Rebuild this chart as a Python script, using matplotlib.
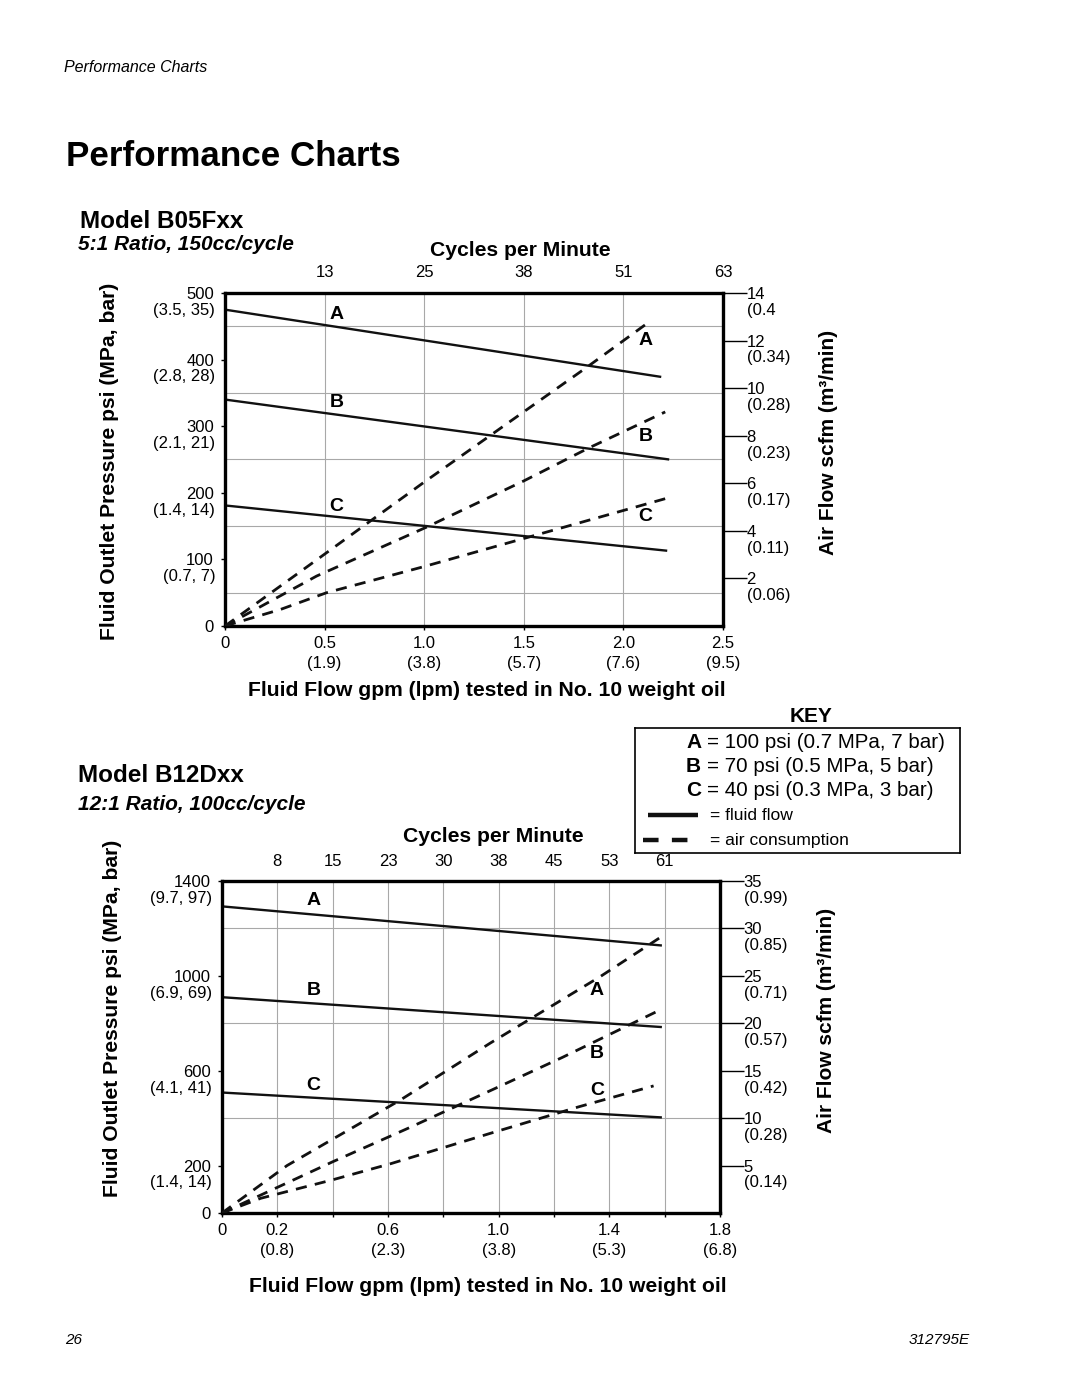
import numpy as np
import matplotlib
matplotlib.use('Agg')
from matplotlib import pyplot as plt

plt.rcParams['font.family'] = ['Liberation Sans', 'DejaVu Sans']

# ---- data: Model B05Fxx (5:1) ----
b05_flow_ticks = [0, 0.5, 1.0, 1.5, 2.0, 2.5]
b05_lpm_labels = ['', '(1.9)', '(3.8)', '(5.7)', '(7.6)', '(9.5)']
b05_cycles = ['13', '25', '38', '51', '63']
b05_cycle_pos = [0.5, 1.0, 1.5, 2.0, 2.5]
b05_psi_ticks = [0, 100, 200, 300, 400, 500]
b05_mpa_labels = ['', '(0.7, 7)', '(1.4, 14)', '(2.1, 21)', '(2.8, 28)', '(3.5, 35)']
b05_scfm_ticks = [2, 4, 6, 8, 10, 12, 14]
b05_m3_labels = ['(0.06)', '(0.11)', '(0.17)', '(0.23)', '(0.28)', '(0.34)', '(0.4']

b05_fluid = {
    'A': ([0, 2.19], [475, 374]),
    'B': ([0, 2.23], [340, 250]),
    'C': ([0, 2.22], [181, 113]),
}
b05_air = {
    'A': ([0, 0.48, 1.0, 1.33, 1.82, 2.14], [0, 2.9, 6.05, 8.0, 10.9, 12.85]),
    'B': ([0, 0.46, 1.01, 1.5, 1.83, 2.21], [0, 2.1, 4.15, 6.1, 7.5, 9.0]),
    'C': ([0, 0.28, 0.51, 1.0, 1.53, 1.7, 2.23], [0, 0.7, 1.4, 2.5, 3.75, 4.15, 5.4]),
}
b05_label_left = {'A': (0.56, 467), 'B': (0.56, 336), 'C': (0.56, 179)}
b05_label_right = {'A': (2.11, 429), 'B': (2.11, 284), 'C': (2.11, 165)}

# ---- data: Model B12Dxx (12:1) ----
b12_flow_ticks = [0, 0.2, 0.4, 0.6, 0.8, 1.0, 1.2, 1.4, 1.6, 1.8]
b12_flow_labels = ['0', '0.2\n(0.8)', '', '0.6\n(2.3)', '', '1.0\n(3.8)', '',
                   '1.4\n(5.3)', '', '1.8\n(6.8)']
b12_cycles = ['8', '15', '23', '30', '38', '45', '53', '61']
b12_cycle_pos = [0.2, 0.4, 0.6, 0.8, 1.0, 1.2, 1.4, 1.6]
b12_psi_ticks = [0, 200, 600, 1000, 1400]
b12_mpa_labels = ['', '(1.4, 14)', '(4.1, 41)', '(6.9, 69)', '(9.7, 97)']
b12_scfm_ticks = [5, 10, 15, 20, 25, 30, 35]
b12_m3_labels = ['(0.14)', '(0.28)', '(0.42)', '(0.57)', '(0.71)', '(0.85)', '(0.99)']

b12_fluid = {
    'A': ([0, 1.59], [1293, 1128]),
    'B': ([0, 1.59], [910, 784]),
    'C': ([0, 1.59], [508, 403]),
}
b12_air = {
    'A': ([0, 0.235, 0.644, 0.969, 1.366, 1.592], [0, 5.0, 11.9, 17.9, 24.9, 29.2]),
    'B': ([0, 0.40, 0.67, 0.97, 1.23, 1.59], [0, 5.4, 8.9, 12.9, 16.4, 21.5]),
    'C': ([0, 0.14, 0.40, 0.61, 0.97, 1.29, 1.56], [0, 1.55, 3.5, 5.2, 8.4, 11.2, 13.4]),
}
b12_label_left = {'A': (0.33, 1317), 'B': (0.33, 939), 'C': (0.33, 539)}
b12_label_right = {'A': (1.355, 939), 'B': (1.355, 673), 'C': (1.355, 518)}

key_letters = ['A', 'B', 'C']
key_desc = ['= 100 psi (0.7 MPa, 7 bar)', '= 70 psi (0.5 MPa, 5 bar)',
            '= 40 psi (0.3 MPa, 3 bar)']

W, H = 1080, 1397
fig = plt.figure(figsize=(W / 100, H / 100), dpi=100)


def px_axes(left, top, right, bottom):
    return fig.add_axes([left / W, 1 - bottom / H, (right - left) / W, (bottom - top) / H])


def ftext(x, y, s, **kw):
    fig.text(x / W, 1 - y / H, s, **kw)


TICK_FS = 12
DASH = (0, (4, 3))


def make_chart(box, xmax, ymax, scfm_max, flow_ticks, flow_labels, cyc_pos, cycles,
               psi_ticks, mpa_labels, grid_psi, scfm_ticks, m3_labels,
               fluid, air, lab_left, lab_right):
    ax = px_axes(*box)
    ax.set_xlim(0, xmax)
    ax.set_ylim(0, ymax)
    for s in ax.spines.values():
        s.set_linewidth(2.4)
    ax.set_xticks(flow_ticks)
    ax.set_xticklabels(flow_labels, fontsize=TICK_FS, linespacing=1.4)
    ax.tick_params(axis='x', length=3, width=1, pad=4)
    ax.set_yticks(psi_ticks)
    ax.set_yticklabels([str(v) for v in psi_ticks], fontsize=TICK_FS)
    ax.tick_params(axis='y', length=3, width=1, pad=5)
    ax.set_yticks(grid_psi, minor=True)
    ax.tick_params(which='minor', length=0)
    ax.grid(axis='x', which='major', color='#a8a8a8', lw=0.8)
    ax.grid(axis='y', which='minor', color='#a8a8a8', lw=0.8)
    ax.set_axisbelow(True)
    for v, lab in zip(psi_ticks, mpa_labels):
        if lab:
            ax.annotate(lab, xy=(0, v), xycoords=('axes fraction', 'data'),
                        xytext=(-7, -12.5), textcoords='offset points',
                        ha='right', va='center', fontsize=TICK_FS)

    for k, (x, y) in fluid.items():
        ax.plot(x, y, color='#111111', lw=1.7, solid_capstyle='butt')
    for k, (x, y) in lab_left.items():
        ax.text(x, y, k, fontsize=14, fontweight='bold', ha='center', va='center')
    for k, (x, y) in lab_right.items():
        ax.text(x, y, k, fontsize=14, fontweight='bold', ha='center', va='center')

    axt = ax.twiny()
    axt.set_xlim(0, xmax)
    axt.set_xticks(cyc_pos)
    axt.set_xticklabels(cycles, fontsize=TICK_FS)
    axt.tick_params(axis='x', length=0, pad=9)
    for s in axt.spines.values():
        s.set_visible(False)

    ax2 = ax.twinx()
    ax2.set_ylim(0, scfm_max)
    for s in ax2.spines.values():
        s.set_visible(False)
    ax2.set_yticks(scfm_ticks)
    ax2.set_yticklabels([str(v) for v in scfm_ticks], fontsize=TICK_FS)
    ax2.tick_params(axis='y', length=17, width=1, pad=0)
    for v, lab in zip(scfm_ticks, m3_labels):
        ax2.annotate(lab, xy=(1, v), xycoords=('axes fraction', 'data'),
                     xytext=(17, -12.5), textcoords='offset points',
                     ha='left', va='center', fontsize=TICK_FS)
    for k, (x, y) in air.items():
        ax2.plot(x, y, color='#111111', lw=2.0, linestyle=DASH)
    return ax


make_chart((225, 293, 723, 626), 2.5, 500, 14, b05_flow_ticks,
           [('0' if v == 0 else f'{v:.1f}\n{l}') for v, l in zip(b05_flow_ticks, b05_lpm_labels)],
           b05_cycle_pos, b05_cycles, b05_psi_ticks, b05_mpa_labels,
           np.arange(50, 500, 50), b05_scfm_ticks, b05_m3_labels,
           b05_fluid, b05_air, b05_label_left, b05_label_right)

make_chart((222, 881, 720, 1213), 1.8, 1400, 35, b12_flow_ticks, b12_flow_labels,
           b12_cycle_pos, b12_cycles, b12_psi_ticks, b12_mpa_labels,
           np.arange(200, 1400, 200), b12_scfm_ticks, b12_m3_labels,
           b12_fluid, b12_air, b12_label_left, b12_label_right)

# ---- page text ----
ftext(64, 68, 'Performance Charts', fontsize=11.5, style='italic', va='center')
ftext(66, 157, 'Performance Charts', fontsize=25.2, fontweight='bold', va='center')
ftext(80, 222, 'Model B05Fxx', fontsize=17.5, fontweight='bold', va='center')
ftext(78, 244, '5:1 Ratio, 150cc/cycle', fontsize=15, fontweight='bold', style='italic', va='center')
ftext(78, 776, 'Model B12Dxx', fontsize=17.5, fontweight='bold', va='center')
ftext(78, 805, '12:1 Ratio, 100cc/cycle', fontsize=15, fontweight='bold', style='italic', va='center')

ftext(520, 250, 'Cycles per Minute', fontsize=15.2, fontweight='bold', ha='center', va='center')
ftext(493, 837, 'Cycles per Minute', fontsize=15.2, fontweight='bold', ha='center', va='center')
ftext(487, 691, 'Fluid Flow gpm (lpm) tested in No. 10 weight oil', fontsize=15.2,
      fontweight='bold', ha='center', va='center')
ftext(488, 1287, 'Fluid Flow gpm (lpm) tested in No. 10 weight oil', fontsize=15.2,
      fontweight='bold', ha='center', va='center')
ftext(110, 461, 'Fluid Outlet Pressure psi (MPa, bar)', fontsize=15.2, fontweight='bold',
      rotation=90, ha='center', va='center')
ftext(113, 1018, 'Fluid Outlet Pressure psi (MPa, bar)', fontsize=15.2, fontweight='bold',
      rotation=90, ha='center', va='center')
ftext(828, 442, 'Air Flow scfm (m³/min)', fontsize=15, fontweight='bold',
      rotation=90, ha='center', va='center')
ftext(826, 1020, 'Air Flow scfm (m³/min)', fontsize=15, fontweight='bold',
      rotation=90, ha='center', va='center')

ftext(65, 1340, '26', fontsize=11, style='italic', va='center')
ftext(970, 1340, '312795E', fontsize=11, style='italic', ha='right', va='center')

# ---- key ----
ftext(811, 716, 'KEY', fontsize=15, fontweight='bold', ha='center', va='center')
kx = px_axes(635, 728, 960, 853)
kx.set_xlim(635, 960)
kx.set_ylim(853, 728)
kx.set_xticks([])
kx.set_yticks([])
for s in kx.spines.values():
    s.set_linewidth(1.2)
for i, (let, desc) in enumerate(zip(key_letters, key_desc)):
    y = 742 + i * 24.5
    kx.text(686, y, let, fontsize=15, fontweight='bold', ha='left', va='center')
    kx.text(707, y, desc, fontsize=14.8, ha='left', va='center')
kx.plot([648, 698], [815, 815], color='#111111', lw=3.2, solid_capstyle='butt')
kx.text(710, 816, '= fluid flow', fontsize=12.6, ha='left', va='center')
kx.plot([643, 698], [840, 840], color='#111111', lw=3.2, linestyle=(0, (3.5, 3)))
kx.text(710, 841, '= air consumption', fontsize=12.6, ha='left', va='center')

fig.savefig('out.png', dpi=100)
